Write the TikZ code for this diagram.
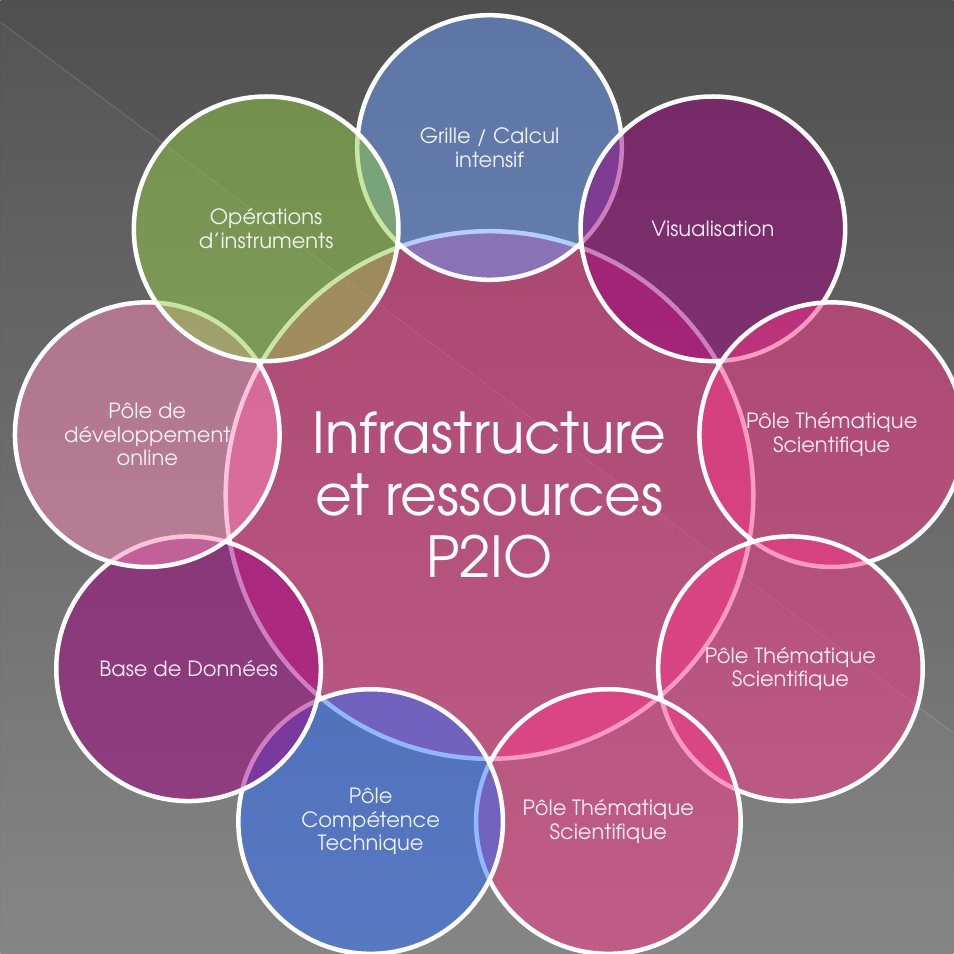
\documentclass[tikz,border=0pt]{standalone}
\usepackage{fontspec}
\setmainfont{TeX Gyre Adventor}
\usetikzlibrary{calc}

% page background
\definecolor{bgtop}{RGB}{79,79,79}
\definecolor{bgbot}{RGB}{130,130,130}
% circle base colours (laid down at half opacity)
\definecolor{cPink}{RGB}{250,54,135}
\definecolor{cGrid}{RGB}{106,156,252}
\definecolor{cVisu}{RGB}{154,0,124}
\definecolor{cOper}{RGB}{146,204,72}
\definecolor{cDev}{RGB}{253,137,185}
\definecolor{cBase}{RGB}{160,0,130}
\definecolor{cTech}{RGB}{43,109,255}

\begin{document}
\begin{tikzpicture}[x=1pt,y=1pt,
  hub/.style={circle, inner sep=0pt, minimum size=527.6pt,
    fill=cPink, fill opacity=0.5, draw=white, line width=4.5pt,
    text=white, text opacity=1, align=center,
    font=\fontsize{56.5}{62}\selectfont},
  ring/.style={circle, inner sep=0pt, minimum size=264.6pt,
    fill opacity=0.5, draw=white, line width=4.5pt,
    text=white, text opacity=0.9, align=center,
    font=\fontsize{21}{23.5}\selectfont}]

% background with its faint diagonal rule
\shade[top color=bgtop, bottom color=bgbot] (0,0) rectangle (953,954);
\fill[white, opacity=0.03] (0,0) -- (0,932) -- (953,221) -- (953,0) -- cycle;
\draw[white, opacity=0.13, line width=1pt] (0,932) -- (953,221);
\useasboundingbox (0,0) rectangle (953,954);

% central circle
\node[hub] (hub) at (489,459) {Infrastructure\\et ressources\\P2IO};

% surrounding circles, clockwise from the top
\path (hub.center) ++(90:347.5)   node[ring, fill=cGrid] (grid) {Grille / Calcul\\intensif};
\path (hub.center) ++(50:347.5)   node[ring, fill=cVisu] (visu) {Visualisation};
\path (hub.center) ++(10:347.5)   node[ring, fill=cPink] (pts1) {Pôle Thématique\\Scientifique};
\path (hub.center) ++(-30:347.5)  node[ring, fill=cPink] (pts2) {Pôle Thématique\\Scientifique};
\path (hub.center) ++(-70:347.5)  node[ring, fill=cPink] (pts3) {Pôle Thématique\\Scientifique};
\path (hub.center) ++(-110:347.5) node[ring, fill=cTech] (tech) {Pôle\\Compétence\\Technique};
\path (hub.center) ++(-150:347.5) node[ring, fill=cBase] (base) {Base de Données};
\path (hub.center) ++(170:347.5)  node[ring, fill=cDev]  (dev)  {Pôle de\\développement\\online};
\path (hub.center) ++(130:347.5)  node[ring, fill=cOper] (oper) {Opérations\\d’instruments};
\end{tikzpicture}
\end{document}
